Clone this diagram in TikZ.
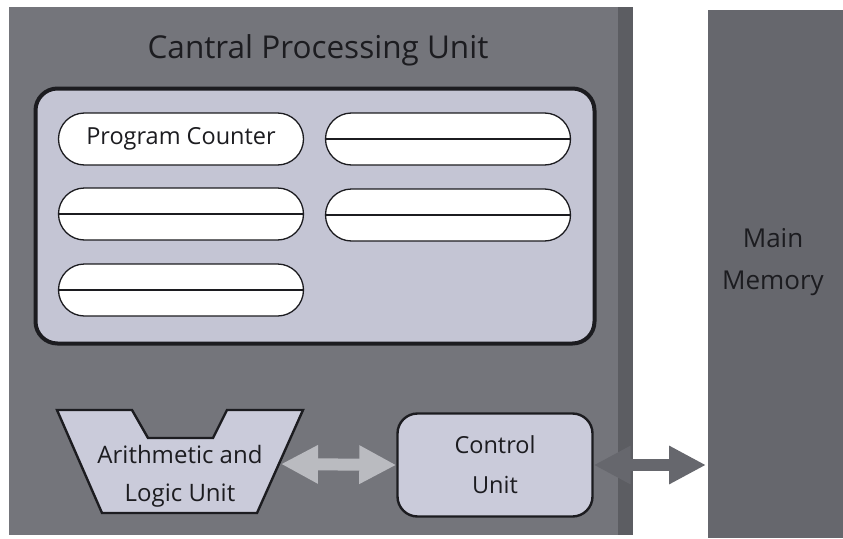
\documentclass[tikz,border=0pt]{standalone}
\usepackage{fontspec}
\setmainfont{Open Sans}
\usetikzlibrary{arrows.meta}
\definecolor{cpugray}{RGB}{116,117,123}
\definecolor{edgegray}{RGB}{92,93,98}
\definecolor{memgray}{RGB}{102,103,109}
\definecolor{panel}{RGB}{196,197,212}
\definecolor{unitfill}{RGB}{202,203,218}
\definecolor{busgray}{RGB}{186,187,192}
\definecolor{inkgray}{RGB}{28,28,32}
\tikzset{
    reg/.style={draw, fill=white, line width=1.3pt, rounded corners=26pt,
        minimum width=245pt, minimum height=52pt, inner sep=0pt,
        font=\fontsize{23.5}{28}\selectfont},
    unit/.style={draw, fill=unitfill, line width=2.4pt, rounded corners=20pt,
        minimum width=195pt, minimum height=103pt, align=center,
        font=\fontsize{23.5}{40}\selectfont},
    bus/.style={line width=12pt, {Triangle[length=37pt,width=36pt]}-{Triangle[length=37pt,width=36pt]}}
}
\begin{document}
\begin{tikzpicture}[x=1pt, y=-1pt, inkgray]
                \useasboundingbox (0,0) rectangle (843,538);
                \fill[cpugray] (9,7) rectangle (633,535);
                \fill[edgegray] (618,7) rectangle (633,535);
                \fill[memgray] (708,10) rectangle (843,538);

                \node[font=\fontsize{31.5}{36}\selectfont] (title) at (318,50) {Cantral Processing Unit};
                \node[draw, fill=panel, line width=4pt, rounded corners=22pt, minimum width=559pt, minimum height=255pt] (regs) at (315,216) {};

                \node[reg] (pc) at (181,139) {Program Counter};
                \node[reg] (r2) at (448,139) {};
                \node[reg] (r3) at (181,214) {};
                \node[reg] (r4) at (448,215) {};
                \node[reg] (r5) at (181,290) {};
                \foreach \r in {r2,r3,r4,r5}
                    \draw[line width=1.3pt] (\r.west) -- (\r.east);

                \draw[fill=unitfill, line width=2.4pt, line join=miter] (57,410) -- (132,410) -- (148,438) -- (213,438) -- (227,410) -- (303,410) -- (257,513) -- (102,513) -- cycle;
                \node[align=center, font=\fontsize{24}{38}\selectfont] (alu) at (180,476) {Arithmetic and\\Logic Unit};
                \coordinate (aluR) at (281,464);

                \node[unit] (cu) at (495,465) {Control\\Unit};
                \node[align=center, font=\fontsize{26}{42}\selectfont] (mem) at (773,262) {Main\\Memory};
                \coordinate (memL) at (706,465);

                \draw[bus, busgray] (aluR) -- (cu.west);
                \draw[bus, memgray] (cu.east) -- (memL);
            \end{tikzpicture}
\end{document}
